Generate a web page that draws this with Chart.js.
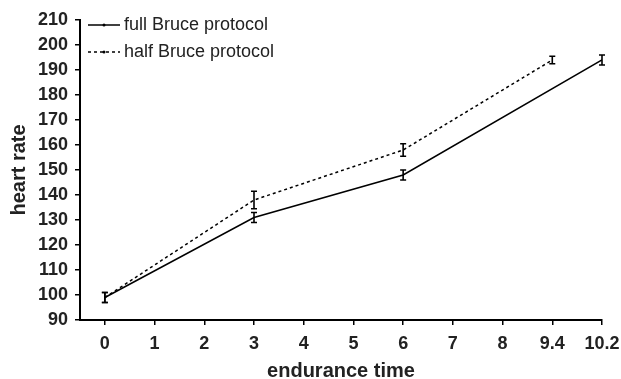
<!DOCTYPE html>
<html>
<head>
<meta charset="utf-8">
<script src="https://cdn.jsdelivr.net/npm/chart.js@4"></script>
<style>
  html, body { margin: 0; padding: 0; background: #fff; }
  #wrap { width: 621px; height: 379px; }
</style>
</head>
<body>
<div id="wrap"><canvas id="hrChart"></canvas></div>
<script>
// tick labels of the (evenly spaced) x axis
const xTickLabels = ['0', '1', '2', '3', '4', '5', '6', '7', '8', '9.4', '10.2'];

// full Bruce protocol
const fullTimes = ['0', '3', '6', '10.2'];
const fullRate = [99, 131, 148, 194];
const fullErr = [2, 2, 2, 2];

// half Bruce protocol
const halfTimes = ['0', '3', '6', '9.4'];
const halfRate = [99, 138, 158, 194];
const halfErr = [2, 3.5, 2.5, 1.5];

const fontName = "'Liberation Sans', Arial, sans-serif";

function toPoints(times, rates) {
    return times.map((t, i) => ({ x: xTickLabels.indexOf(t), y: rates[i] }));
}

// vertical error bars with caps
const errorBars = {
    id: 'errorBars',
    afterDatasetsDraw(chart) {
        const { ctx, scales: { x, y } } = chart;
        ctx.save();
        ctx.strokeStyle = '#000';
        ctx.lineWidth = 1.6;
        chart.data.datasets.forEach(ds => {
            ds.data.forEach((p, i) => {
                const e = ds.errors[i];
                const px = x.getPixelForValue(p.x);
                const top = y.getPixelForValue(p.y + e);
                const bot = y.getPixelForValue(p.y - e);
                ctx.beginPath();
                ctx.moveTo(px, top); ctx.lineTo(px, bot);
                ctx.moveTo(px - 3, top); ctx.lineTo(px + 3, top);
                ctx.moveTo(px - 3, bot); ctx.lineTo(px + 3, bot);
                ctx.stroke();
            });
        });
        ctx.restore();
    }
};

// legend in the top-left corner of the plot
const cornerLegend = {
    id: 'cornerLegend',
    afterDraw(chart) {
        const { ctx, chartArea } = chart;
        const x0 = chartArea.left + 8;
        ctx.save();
        ctx.font = '18px ' + fontName;
        ctx.textBaseline = 'middle';
        chart.data.datasets.forEach((ds, i) => {
            const yy = chartArea.top + 5 + i * 27;
            ctx.strokeStyle = '#000';
            ctx.lineWidth = ds.borderWidth;
            ctx.setLineDash(ds.borderDash || []);
            ctx.beginPath();
            ctx.moveTo(x0, yy); ctx.lineTo(x0 + 32, yy);
            ctx.stroke();
            ctx.setLineDash([]);
            ctx.beginPath();
            ctx.arc(x0 + 16, yy, 1.5, 0, Math.PI * 2);
            ctx.fillStyle = '#000';
            ctx.fill();
            ctx.fillStyle = '#222';
            ctx.fillText(ds.label, x0 + 36, yy);
        });
        ctx.restore();
    }
};

new Chart(document.getElementById('hrChart'), {
    type: 'line',
    data: {
        datasets: [
            {
                label: 'full Bruce protocol',
                data: toPoints(fullTimes, fullRate),
                errors: fullErr,
                borderColor: '#000',
                borderWidth: 1.5,
                pointRadius: 0,
                tension: 0
            },
            {
                label: 'half Bruce protocol',
                data: toPoints(halfTimes, halfRate),
                errors: halfErr,
                borderColor: '#000',
                borderWidth: 1.5,
                borderDash: [3, 3],
                pointRadius: 0,
                tension: 0
            }
        ]
    },
    options: {
        responsive: true,
        maintainAspectRatio: false,
        animation: false,
        layout: { padding: { top: 20, right: 19, left: 0, bottom: 0 } },
        plugins: { legend: { display: false }, tooltip: { enabled: false } },
        scales: {
            x: {
                type: 'linear',
                min: -0.5,
                max: xTickLabels.length - 1,
                afterBuildTicks: (s) => { s.ticks = xTickLabels.map((_, i) => ({ value: i })); },
                afterFit: (s) => { s.height = 59; s.paddingRight = 0; },
                ticks: {
                    color: '#222',
                    font: { family: fontName, size: 18, weight: 'bold' },
                    padding: 8,
                    maxRotation: 0,
                    callback: (v) => xTickLabels[v]
                },
                grid: { drawOnChartArea: false, drawTicks: true, tickLength: 5, color: '#000', lineWidth: 1.5 },
                border: { color: '#000', width: 2 },
                title: {
                    display: true,
                    text: 'endurance time',
                    color: '#222',
                    font: { family: fontName, size: 20, weight: 'bold' },
                    padding: { top: 0, bottom: -4 }
                }
            },
            y: {
                min: 90,
                max: 210,
                afterFit: (s) => { s.width = 80; },
                ticks: {
                    stepSize: 10,
                    color: '#222',
                    font: { family: fontName, size: 18, weight: 'bold' },
                    padding: 7
                },
                grid: { drawOnChartArea: false, drawTicks: true, tickLength: 5, color: '#000', lineWidth: 1.5 },
                border: { color: '#000', width: 2 },
                title: {
                    display: true,
                    text: 'heart rate',
                    color: '#222',
                    font: { family: fontName, size: 20, weight: 'bold' },
                    padding: { top: 7, bottom: 0 }
                }
            }
        }
    },
    plugins: [errorBars, cornerLegend]
});
</script>
</body>
</html>
